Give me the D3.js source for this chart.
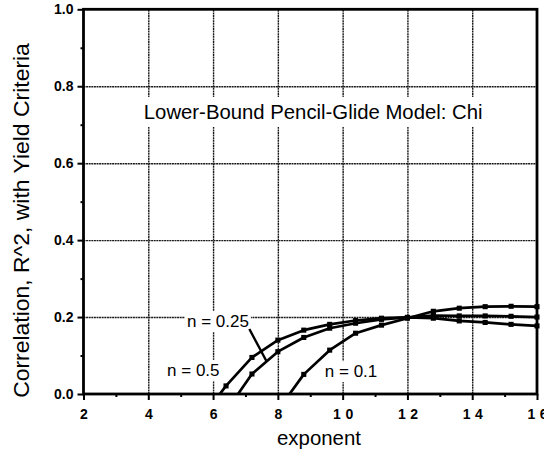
<!DOCTYPE html>
<html>
<head>
<meta charset="utf-8">
<script src="https://cdn.jsdelivr.net/npm/d3@7"></script>
<style>
  html, body { margin: 0; padding: 0; background: #fff; }
  svg { display: block; }
  text { font-family: "Liberation Sans", Arial, Helvetica, sans-serif; fill: #000; }
</style>
</head>
<body>
<svg id="chart" width="544" height="456"></svg>
<script>
// Exponent values sampled for each yield-criterion curve
const exponent = [5.6, 6.4, 7.2, 8.0, 8.8, 9.6, 10.4, 11.2, 12.0, 12.8, 13.6, 14.4, 15.2, 16.0];
// Correlation R^2 per strain-hardening exponent n (null = not computed)
const rsqN05  = [-0.067, 0.021, 0.095, 0.140, 0.166, 0.181, 0.191, 0.197, 0.199, 0.197, 0.190, 0.186, 0.181, 0.177];
const rsqN025 = [null, -0.045, 0.052, 0.110, 0.147, 0.171, 0.184, 0.194, 0.199, 0.204, 0.203, 0.203, 0.202, 0.200];
const rsqN01  = [null, null, null, -0.042, 0.051, 0.114, 0.158, 0.179, 0.197, 0.215, 0.223, 0.227, 0.228, 0.227];

const seriesNames = ["n = 0.5", "n = 0.25", "n = 0.1"];
const xMajorTicks = [2, 4, 6, 8, 10, 12, 14, 16];
const xMinorTicks = [3, 5, 7, 9, 11, 13, 15];
const yMajorTicks = [0.0, 0.2, 0.4, 0.6, 0.8, 1.0];
const yMinorTicks = [0.1, 0.3, 0.5, 0.7, 0.9];

const titleText = "Lower-Bound Pencil-Glide Model: Chi";
const xAxisTitle = "exponent";
const yAxisTitle = "Correlation, R^2, with Yield Criteria";

// Annotation anchor points in data units
const labelAt = [[5.39, 0.047], [6.15, 0.174], [10.26, 0.044]];
const leader = [[7.12, 0.169], [7.65, 0.085]];
const titleAt = [9.09, 0.715];

const svg = d3.select("#chart");
const L = 83.5, R = 537, T = 9.3, B = 394;
const x = d3.scaleLinear().domain([2, 16]).range([L, R]);
const y = d3.scaleLinear().domain([0, 1]).range([B, T]);

const fontStack = '"Liberation Sans", Arial, Helvetica, sans-serif';

// clip for curves
svg.append("defs").append("clipPath").attr("id", "plot")
  .append("rect").attr("x", L).attr("y", T).attr("width", R - L).attr("height", B - T);

// grid lines
const grid = svg.append("g").attr("class", "grid");
grid.append("g").attr("transform", `translate(0,${B})`)
  .call(d3.axisBottom(x).tickValues(xMajorTicks.slice(1, -1)).tickSize(-(B - T)).tickFormat(""))
  .call(g => g.select(".domain").remove());
grid.append("g").attr("transform", `translate(${L},0)`)
  .call(d3.axisLeft(y).tickValues(yMajorTicks.slice(1, -1)).tickSize(-(R - L)).tickFormat(""))
  .call(g => g.select(".domain").remove());
grid.selectAll("line").attr("stroke", "#1a1a1a").attr("stroke-width", 1.4)
  .attr("stroke-dasharray", "2,0.6");

// annotation layer: white boxes under labels
const boxLayer = svg.append("g");
const curveLayer = svg.append("g").attr("clip-path", "url(#plot)");
const markLayer = svg.append("g");
const textLayer = svg.append("g");

function fitText(sel, target) {
  const w = sel.node().getComputedTextLength();
  const fs = parseFloat(sel.attr("font-size"));
  sel.attr("font-size", fs * target / w);
}

function boxed(sel, padX, padY) {
  const b = sel.node().getBBox();
  boxLayer.append("rect")
    .attr("x", b.x - padX).attr("y", b.y - padY)
    .attr("width", b.width + 2 * padX).attr("height", b.height + 2 * padY)
    .attr("fill", "#fff");
}

// title
const title = textLayer.append("text")
  .attr("x", x(titleAt[0])).attr("y", y(titleAt[1]))
  .attr("text-anchor", "middle").attr("font-size", 18).text(titleText);
fitText(title, 339);
boxed(title, 4, 4);

// curves
const allSeries = [rsqN05, rsqN025, rsqN01];
const line = d3.line()
  .defined(d => d[1] !== null)
  .x(d => x(d[0])).y(d => y(d[1]));
allSeries.forEach(vals => {
  const pts = exponent.map((e, i) => [e, vals[i]]);
  curveLayer.append("path").datum(pts)
    .attr("d", line).attr("fill", "none").attr("stroke", "#000")
    .attr("stroke-width", 2.7).attr("stroke-linejoin", "round");
  markLayer.selectAll(null)
    .data(pts.filter(d => d[1] !== null && d[1] >= 0))
    .join("path")
    .attr("transform", d => `translate(${x(d[0])},${y(d[1])})`)
    .attr("d", d3.symbol(d3.symbolSquare, 26))
    .attr("fill", "#000");
});

// leader from the n = 0.25 label to its curve
markLayer.append("line")
  .attr("x1", x(leader[0][0])).attr("y1", y(leader[0][1]))
  .attr("x2", x(leader[1][0])).attr("y2", y(leader[1][1]))
  .attr("stroke", "#000").attr("stroke-width", 2.4);

// series labels
seriesNames.forEach((name, i) => {
  const t = textLayer.append("text")
    .attr("x", x(labelAt[i][0])).attr("y", y(labelAt[i][1]))
    .attr("text-anchor", "middle").attr("font-size", 17).text(name);
  boxed(t, 2, 1);
});

// axes
const axes = svg.append("g");
const xAx = axes.append("g").attr("transform", `translate(0,${B})`)
  .call(d3.axisBottom(x).tickValues(xMajorTicks).tickSize(6).tickPadding(9).tickFormat(d3.format("d")));
axes.append("g").attr("transform", `translate(0,${B})`)
  .call(d3.axisBottom(x).tickValues(xMinorTicks).tickSize(3).tickFormat(""));
const yAx = axes.append("g").attr("transform", `translate(${L},0)`)
  .call(d3.axisLeft(y).tickValues(yMajorTicks).tickSize(6).tickPadding(4).tickFormat(d3.format(".1f")));
axes.append("g").attr("transform", `translate(${L},0)`)
  .call(d3.axisLeft(y).tickValues(yMinorTicks).tickSize(3).tickFormat(""));
axes.selectAll(".domain").remove();
axes.selectAll(".tick line").attr("stroke", "#000").attr("stroke-width", 2);
axes.selectAll(".tick text")
  .attr("font-family", fontStack).attr("font-size", 14).attr("font-weight", "bold").attr("fill", "#000");
const spacing = 4.5;
xAx.selectAll(".tick text")
  .attr("letter-spacing", d => String(d).length > 1 ? spacing : 0)
  .attr("dx", d => String(d).length > 1 ? spacing / 2 : 0);

// plot frame
svg.append("rect").attr("x", L).attr("y", T).attr("width", R - L).attr("height", B - T)
  .attr("fill", "none").attr("stroke", "#000").attr("stroke-width", 2.8);

// axis titles
const xt = svg.append("text").attr("x", 319).attr("y", 444.5)
  .attr("text-anchor", "middle").attr("font-size", 20).text(xAxisTitle);
fitText(xt, 84);
const yt = svg.append("text")
  .attr("transform", `translate(29,${(43 + 398) / 2}) rotate(-90)`)
  .attr("text-anchor", "middle").attr("font-size", 20).text(yAxisTitle);
fitText(yt, 355);
</script>
</body>
</html>
